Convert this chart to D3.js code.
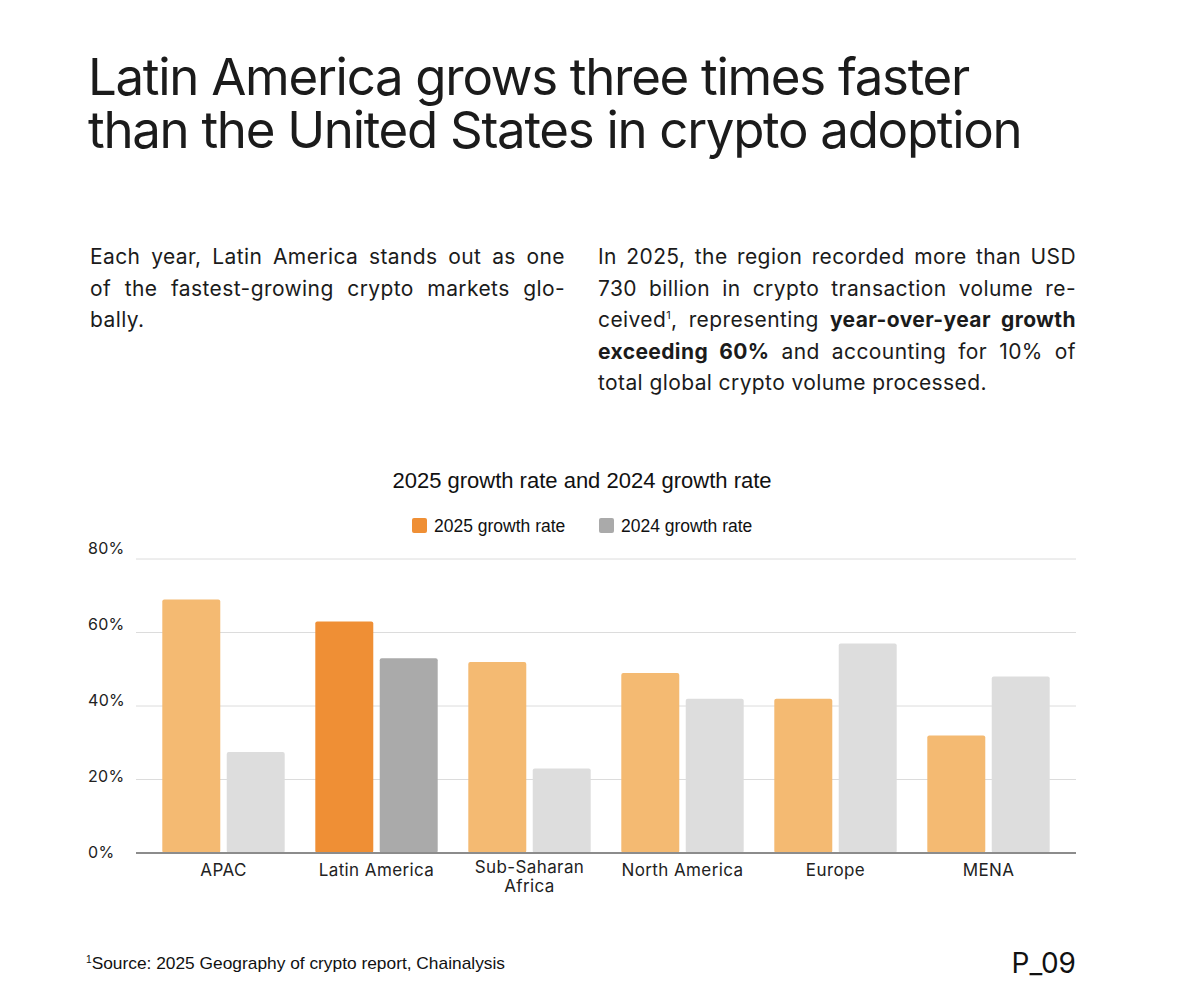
<!DOCTYPE html>
<html>
<head>
<meta charset="utf-8">
<script src="https://cdn.jsdelivr.net/npm/d3@7"></script>
<style>
  html, body { margin: 0; padding: 0; background: #fff; }
  svg { display: block; }
</style>
</head>
<body>
<div id="chart"></div>
<script>
// data
const regions = ["APAC", "Latin America", "Sub-Saharan Africa", "North America", "Europe", "MENA"];
const growth2025 = [69, 63, 52, 49, 42, 32];
const growth2024 = [27.5, 53, 23, 42, 57, 48];
const seriesNames = ["2025 growth rate", "2024 growth rate"];
const yTicks = [0, 20, 40, 60, 80];
const highlighted = "Latin America";

const titleLines = [
  "Latin America grows three times faster",
  "than the United States in crypto adoption"
];
const leftPara = [
  [{ t: "Each year, Latin America stands out as one" }],
  [{ t: "of the fastest-growing crypto markets glo-" }],
  [{ t: "bally." }]
];
const rightPara = [
  [{ t: "In 2025, the region recorded more than USD" }],
  [{ t: "730 billion in crypto transaction volume re-" }],
  [{ t: "ceived" }, { t: "1", sup: true }, { t: ", representing " }, { t: "year-over-year growth", b: true }],
  [{ t: "exceeding 60%", b: true }, { t: " and accounting for 10% of" }],
  [{ t: "total global crypto volume processed." }]
];

const width = 1200, height = 997;
const sans = "Inter, 'Liberation Sans', Arial, sans-serif";
const arial = "'Liberation Sans', Arial, sans-serif";

const svg = d3.select("#chart").append("svg")
  .attr("width", width)
  .attr("height", height);

svg.append("rect").attr("width", width).attr("height", height).attr("fill", "#fff");

// headline
svg.selectAll(".headline")
  .data(titleLines)
  .enter()
  .append("text")
  .attr("class", "headline")
  .attr("x", 88)
  .attr("y", (d, i) => 95 + i * 53)
  .style("font-family", sans)
  .style("font-size", "51px")
  .style("letter-spacing", "-1.3px")
  .style("fill", "#1b1b1b")
  .text(d => d);

// justified paragraph helper
function drawPara(lines, x, y0, lineH, w) {
  lines.forEach(function (parts, i) {
    const txt = svg.append("text")
      .attr("x", x)
      .attr("y", y0 + i * lineH)
      .style("font-family", sans)
      .style("font-size", "21px")
      .style("letter-spacing", "0.4px")
      .style("fill", "#1b1b1b");
    parts.forEach(function (p) {
      const ts = txt.append("tspan").text(p.t);
      if (p.b) ts.style("font-weight", 700);
      if (p.sup) ts.style("font-size", "11px").attr("baseline-shift", "8");
    });
    // stretch the word gaps on all but the last line
    if (i < lines.length - 1) {
      const natural = txt.node().getComputedTextLength();
      const spaces = parts.map(p => p.t).join("").split(" ").length - 1;
      if (spaces > 0) txt.style("word-spacing", ((w - natural) / spaces) + "px");
    }
  });
}
drawPara(leftPara, 90, 264, 31.5, 475);
drawPara(rightPara, 598, 264, 31.5, 478);

// chart
const plotLeft = 136, plotRight = 1076;

svg.append("text")
  .attr("x", 582)
  .attr("y", 488)
  .attr("text-anchor", "middle")
  .style("font-family", arial)
  .style("font-size", "22px")
  .style("fill", "#111")
  .text("2025 growth rate and 2024 growth rate");

const y = d3.scaleLinear().domain([0, 80]).range([853, 559]);
// tick labels in the original sit on their own, slightly wider spacing
const yLabel = d3.scaleLinear().domain([0, 80]).range([858, 554]);

const x0 = d3.scaleBand()
  .domain(regions)
  .range([147, 1065])
  .paddingInner(0.2)
  .paddingOuter(0.1);

const x1 = d3.scaleBand()
  .domain(seriesNames)
  .range([0, x0.bandwidth()])
  .paddingInner(0.1);

const colors = {
  "2025 growth rate": { base: "#F4BA72", hi: "#EF8F35" },
  "2024 growth rate": { base: "#DDDDDD", hi: "#AAAAAA" }
};

// legend
const legend = svg.append("g").attr("class", "legend");
const legendX = [412, 599];
seriesNames.forEach(function (s, i) {
  legend.append("rect")
    .attr("x", legendX[i])
    .attr("y", 518)
    .attr("width", 15)
    .attr("height", 15)
    .attr("rx", 2)
    .attr("fill", colors[s].hi);
  legend.append("text")
    .attr("x", legendX[i] + 22)
    .attr("y", 532)
    .style("font-family", arial)
    .style("font-size", "17.5px")
    .style("fill", "#111")
    .text(s);
});

// grid
svg.append("g")
  .selectAll("line")
  .data(yTicks.filter(d => d > 0))
  .enter()
  .append("line")
  .attr("x1", plotLeft)
  .attr("x2", plotRight)
  .attr("y1", d => y(d))
  .attr("y2", d => y(d))
  .attr("stroke", "#DCDCDC")
  .attr("stroke-width", 1);

svg.append("g")
  .selectAll("text")
  .data(yTicks)
  .enter()
  .append("text")
  .attr("x", 88)
  .attr("y", d => yLabel(d))
  .style("font-family", sans)
  .style("font-size", "16px")
  .style("letter-spacing", "0.3px")
  .style("fill", "#222")
  .text(d => d + "%");

// bars
const rows = regions.map((r, i) => ({
  region: r,
  values: [
    { series: seriesNames[0], value: growth2025[i] },
    { series: seriesNames[1], value: growth2024[i] }
  ]
}));

const groups = svg.append("g")
  .selectAll("g")
  .data(rows)
  .enter()
  .append("g")
  .attr("transform", d => "translate(" + x0(d.region) + ",0)");

groups.selectAll("rect")
  .data(d => d.values.map(v => Object.assign({ region: d.region }, v)))
  .enter()
  .append("rect")
  .attr("x", d => x1(d.series))
  .attr("y", d => y(d.value))
  .attr("width", x1.bandwidth())
  .attr("height", d => y(0) - y(d.value))
  .attr("rx", 2)
  .attr("fill", d => d.region == highlighted ? colors[d.series].hi : colors[d.series].base);

// baseline
svg.append("line")
  .attr("x1", plotLeft)
  .attr("x2", plotRight)
  .attr("y1", y(0))
  .attr("y2", y(0))
  .attr("stroke", "#8C8C8C")
  .attr("stroke-width", 2);

// category labels (Sub-Saharan Africa wraps)
const xLabels = svg.append("g")
  .selectAll("text")
  .data(regions)
  .enter()
  .append("text")
  .attr("text-anchor", "middle")
  .style("font-family", sans)
  .style("font-size", "17px")
  .style("letter-spacing", "0.4px")
  .style("fill", "#222");

xLabels.each(function (d) {
  const t = d3.select(this);
  const cx = x0(d) + x0.bandwidth() / 2;
  if (d == "Sub-Saharan Africa") {
    t.append("tspan").attr("x", cx).attr("y", 873).text("Sub-Saharan");
    t.append("tspan").attr("x", cx).attr("y", 892).text("Africa");
  } else {
    t.attr("x", cx).attr("y", 876).text(d);
  }
});

// footer
const foot = svg.append("text")
  .attr("x", 86)
  .attr("y", 969)
  .attr("textLength", 419)
  .attr("lengthAdjust", "spacingAndGlyphs")
  .style("font-family", arial)
  .style("font-size", "17px")
  .style("fill", "#111");
foot.append("tspan").style("font-size", "10px").attr("baseline-shift", "6").text("1");
foot.append("tspan").text("Source: 2025 Geography of crypto report, Chainalysis");

svg.append("text")
  .attr("x", 1076)
  .attr("y", 973)
  .attr("text-anchor", "end")
  .style("font-family", sans)
  .style("font-size", "28px")
  .style("fill", "#111")
  .text("P_09");
</script>
</body>
</html>
